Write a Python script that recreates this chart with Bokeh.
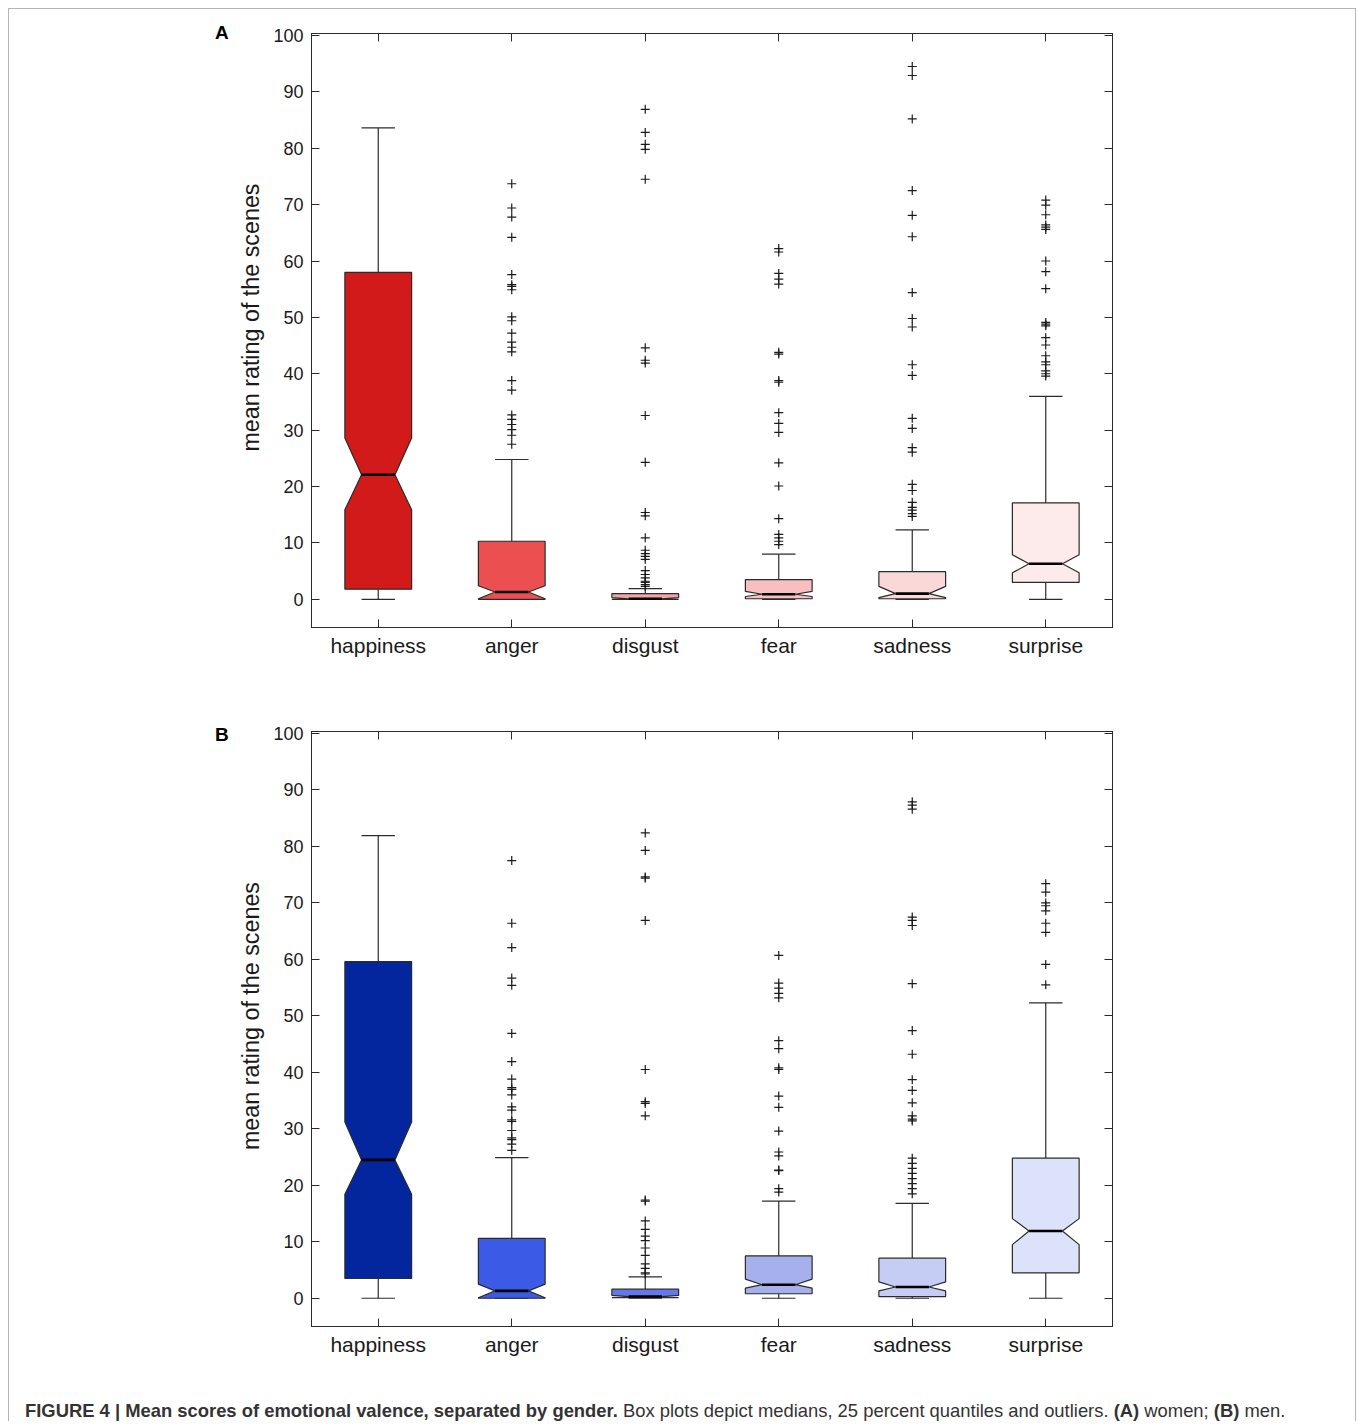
import numpy as np
from bokeh.plotting import figure
from bokeh.models import Range1d, FixedTicker, LinearAxis, Div, CustomJSTickFormatter
from bokeh.layouts import column, row
from bokeh.embed import file_html
from bokeh.resources import INLINE

categories = ["happiness", "anger", "disgust", "fear", "sadness", "surprise"]
y_ticks = [0, 10, 20, 30, 40, 50, 60, 70, 80, 90, 100]

# ---------------- Panel A: women ----------------
women_q1 = [1.8, 0.0, 0.0, 0.1, 0.1, 3.0]
women_notch_lo = [15.9, 0.1, 0.0, 0.5, 0.3, 4.7]
women_median = [22.1, 1.3, 0.1, 0.9, 1.0, 6.3]
women_notch_hi = [28.6, 2.4, 0.3, 1.4, 2.3, 7.9]
women_q3 = [58.0, 10.3, 1.0, 3.5, 4.9, 17.1]
women_whisker_lo = [0.0, 0.0, 0.0, 0.0, 0.0, 0.0]
women_whisker_hi = [83.6, 24.8, 1.9, 8.0, 12.3, 36.0]
women_colors = ["#d31a1a", "#eb4f4f", "#f4a3a6", "#f9bfc0", "#fbd8d8", "#fdeaea"]

women_out_happiness = []
women_out_anger = [73.7, 69.4, 67.8, 64.2, 57.6, 55.8, 55.5, 54.9, 50.1, 49.4, 47.2,
                   45.6, 44.7, 43.9, 38.8, 37.1, 32.7, 31.9, 31.0, 30.1, 29.1, 27.5]
women_out_disgust = [86.9, 82.8, 80.7, 79.8, 74.5, 44.6, 42.4, 41.9, 32.6, 24.3, 15.4,
                     14.8, 10.9, 8.7, 8.1, 7.6, 7.1, 5.1, 4.4, 3.8, 3.2, 3.0, 2.6, 2.3]
women_out_fear = [62.2, 61.6, 57.8, 56.8, 55.9, 43.8, 43.5, 38.8, 38.5, 33.1, 31.2,
                  29.6, 24.2, 20.1, 14.3, 11.5, 10.9, 10.3, 9.7]
women_out_sadness = [94.5, 92.9, 85.2, 72.5, 68.1, 64.3, 54.4, 49.8, 48.3, 41.6, 39.7,
                     32.1, 30.3, 26.9, 26.1, 20.4, 19.3, 17.2, 16.3, 15.8, 15.2, 14.7]
women_out_surprise = [70.8, 69.9, 68.2, 66.4, 66.0, 65.6, 60.0, 58.1, 55.1, 49.1, 48.8,
                      48.5, 46.4, 45.1, 43.2, 42.1, 41.6, 40.5, 40.0, 39.6]

# ---------------- Panel B: men ----------------
men_q1 = [3.5, 0.0, 0.1, 0.8, 0.3, 4.5]
men_notch_lo = [18.4, 0.1, 0.1, 1.8, 1.3, 9.5]
men_median = [24.5, 1.3, 0.3, 2.4, 2.0, 11.9]
men_notch_hi = [31.2, 2.5, 0.5, 3.4, 2.9, 14.1]
men_q3 = [59.6, 10.6, 1.6, 7.5, 7.1, 24.8]
men_whisker_lo = [0.0, 0.0, 0.0, 0.0, 0.0, 0.0]
men_whisker_hi = [81.9, 24.9, 3.8, 17.2, 16.8, 52.3]
men_colors = ["#03269e", "#3b5be6", "#6478eb", "#a5b0ec", "#c6cdf5", "#dde2fb"]

men_out_happiness = []
men_out_anger = [77.5, 66.4, 62.1, 56.7, 55.4, 46.9, 41.9, 38.8, 37.3, 37.0, 36.0,
                 33.9, 33.3, 31.6, 31.3, 29.7, 28.4, 28.1, 27.3, 26.2]
men_out_disgust = [82.4, 79.3, 74.6, 74.4, 66.9, 40.5, 34.8, 34.5, 32.3, 17.4, 17.2,
                   13.7, 12.2, 11.0, 10.2, 8.9, 7.6, 6.1, 5.3, 4.5, 4.3]
men_out_fear = [60.7, 55.8, 54.9, 54.0, 53.2, 45.6, 44.2, 40.8, 40.5, 35.8, 33.8,
                29.6, 25.9, 25.2, 22.7, 22.6, 19.4, 18.8]
men_out_sadness = [87.9, 87.3, 86.6, 67.5, 66.9, 66.0, 55.7, 47.4, 43.2, 38.7, 36.8,
                   34.6, 32.3, 31.7, 31.4, 24.8, 23.9, 23.0, 22.1, 21.2, 20.3, 19.4, 18.5]
men_out_surprise = [73.4, 71.9, 70.0, 69.5, 68.6, 66.4, 64.8, 59.1, 55.5]

y_label = "mean rating of the scenes"

FONT = "Liberation Sans"
INK = "#2b2b2b"
BOX_HW = 0.25
NOTCH_HW = 0.125


def make_panel(q1, nlo, med, nhi, q3, wlo, whi, colors, outliers,
               border_top, frame_h, border_bottom):
    p = figure(frame_width=801, frame_height=frame_h,
               x_range=Range1d(0.5, 6.5), y_range=Range1d(-5, 100.35),
               output_backend="svg", toolbar_location=None,
               min_border_left=80, min_border_right=243,
               min_border_top=border_top, min_border_bottom=border_bottom,
               background_fill_color="white", border_fill_color="white")
    p.grid.visible = False
    p.outline_line_color = INK
    p.outline_line_width = 1

    xpos = np.arange(1, len(categories) + 1)

    xs, ys = [], []
    for i, x in enumerate(xpos):
        xs.append([x - BOX_HW, x - BOX_HW, x - NOTCH_HW, x - BOX_HW, x - BOX_HW,
                   x + BOX_HW, x + BOX_HW, x + NOTCH_HW, x + BOX_HW, x + BOX_HW])
        ys.append([q1[i], nlo[i], med[i], nhi[i], q3[i],
                   q3[i], nhi[i], med[i], nlo[i], q1[i]])

    # whiskers and caps
    p.segment(x0=xpos, y0=q3, x1=xpos, y1=whi, line_color=INK, line_width=1.2)
    p.segment(x0=xpos, y0=q1, x1=xpos, y1=wlo, line_color=INK, line_width=1.2)
    p.segment(x0=xpos - NOTCH_HW, y0=whi, x1=xpos + NOTCH_HW, y1=whi, line_color=INK, line_width=1.2)
    p.segment(x0=xpos - NOTCH_HW, y0=wlo, x1=xpos + NOTCH_HW, y1=wlo, line_color=INK, line_width=1.2)

    # notched boxes
    p.patches(xs=xs, ys=ys, fill_color=colors, line_color=INK, line_width=1.2)
    # medians
    p.segment(x0=xpos - NOTCH_HW, y0=med, x1=xpos + NOTCH_HW, y1=med,
              line_color="black", line_width=2.6)

    # outliers
    ox, oy = [], []
    for i, vals in enumerate(outliers):
        ox += [xpos[i]] * len(vals)
        oy += list(vals)
    p.scatter(x=ox, y=oy, marker="cross", size=9, line_color="#1a1a1a", line_width=1.2)

    # axes
    for ax in (p.xaxis[0], p.yaxis[0]):
        ax.axis_line_color = INK
        ax.major_tick_line_color = INK
        ax.minor_tick_line_color = None
        ax.major_tick_in = 8
        ax.major_tick_out = 0
        ax.major_label_text_font = FONT
        ax.major_label_text_color = "#1a1a1a"
        ax.major_label_standoff = 8

    p.xaxis[0].ticker = FixedTicker(ticks=list(xpos))
    p.xaxis[0].major_label_overrides = {int(x): c for x, c in zip(xpos, categories)}
    p.xaxis[0].major_label_text_font_size = "21px"
    p.xaxis[0].major_label_standoff = 6

    p.yaxis[0].ticker = FixedTicker(ticks=y_ticks)
    p.yaxis[0].major_label_text_font_size = "18px"
    # leading no-break spaces lift the centred label slightly, as in the original
    p.yaxis[0].axis_label = "\u00a0" * 4 + y_label
    p.yaxis[0].axis_label_text_font = FONT
    p.yaxis[0].axis_label_text_font_size = "23.3px"
    p.yaxis[0].axis_label_text_font_style = "normal"
    p.yaxis[0].axis_label_text_color = "#1a1a1a"
    p.yaxis[0].axis_label_standoff = 6

    blank = CustomJSTickFormatter(code="return ''")
    top = LinearAxis(ticker=FixedTicker(ticks=list(xpos)), formatter=blank)
    right = LinearAxis(ticker=FixedTicker(ticks=y_ticks), formatter=blank)
    for ax in (top, right):
        ax.axis_line_color = INK
        ax.major_tick_line_color = INK
        ax.minor_tick_line_color = None
        ax.major_tick_in = 8
        ax.major_tick_out = 0
        ax.major_label_standoff = 0
    p.add_layout(top, "above")
    p.add_layout(right, "right")
    return p


def letter_div(letter, pad_top, height):
    return Div(text=letter, width=222, height=height, margin=0,
               styles={"font-family": "Liberation Sans, Arial, sans-serif",
                       "font-size": "19px", "font-weight": "bold", "color": "black",
                       "line-height": "22px", "padding-left": "206px",
                       "padding-top": f"{pad_top}px"})


pA = make_panel(women_q1, women_notch_lo, women_median, women_notch_hi, women_q3,
                women_whisker_lo, women_whisker_hi, women_colors,
                [women_out_happiness, women_out_anger, women_out_disgust,
                 women_out_fear, women_out_sadness, women_out_surprise],
                24, 594, 81)
pB = make_panel(men_q1, men_notch_lo, men_median, men_notch_hi, men_q3,
                men_whisker_lo, men_whisker_hi, men_colors,
                [men_out_happiness, men_out_anger, men_out_disgust,
                 men_out_fear, men_out_sadness, men_out_surprise],
                23, 595, 68)

caption = Div(
    text=("<b>FIGURE 4 | Mean scores of emotional valence, separated by gender.</b> "
          "Box plots depict medians, 25 percent quantiles and outliers. "
          "<b>(A)</b> women; <b>(B)</b> men."),
    width=1346, height=27, margin=0,
    styles={"font-family": "Liberation Sans, Arial, sans-serif", "font-size": "18.4px",
            "color": "#333333", "padding-left": "16px", "padding-top": "6px",
            "white-space": "nowrap", "line-height": "21px"})

layout = column(row(letter_div("A", 13, 60), pA),
                row(letter_div("B", 16, 60), pB),
                caption,
                margin=(8, 0, 0, 8),
                styles={"border-left": "1px solid #b5b5b5", "border-top": "1px solid #b5b5b5",
                        "border-right": "1px solid #b5b5b5"})

with open("out.html", "w") as f:
    f.write(file_html(layout, INLINE))
